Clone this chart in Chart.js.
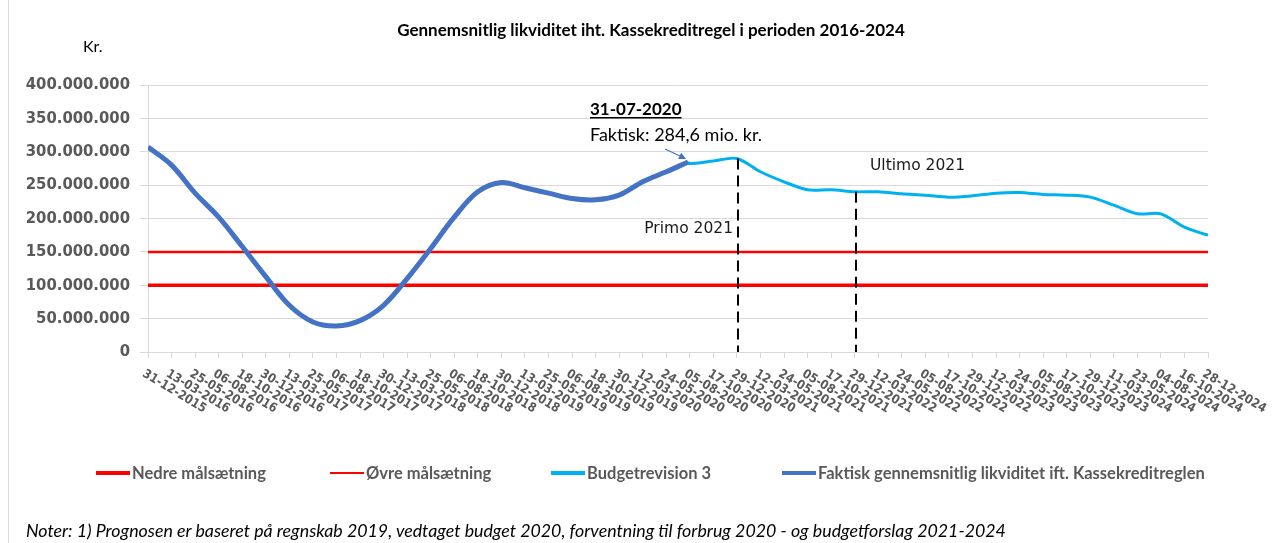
<!DOCTYPE html>
<html>
<head>
<meta charset="utf-8">
<script src="https://cdn.jsdelivr.net/npm/chart.js@4.4.1/dist/chart.umd.min.js"></script>
<style>
  body { margin: 0; background: #fff; }
  #wrap { position: relative; width: 1284px; height: 543px; overflow: hidden; }
  #chart { position: absolute; left: 0; top: 0; }
  .frame { position: absolute; left: 8px; top: 0; width: 1px; height: 543px; background: #d9d9d9; }
  .title { position: absolute; top: 19px; left: 18px; width: 1266px; text-align: center; font: bold 17px Lato, sans-serif; color: #000; white-space: nowrap; }
  .unit { position: absolute; top: 36px; left: 83px; font: 16px Lato, sans-serif; color: #000; }
  .legend-item { position: absolute; top: 463px; font: bold 16.5px Lato, sans-serif; color: #595959; white-space: nowrap; display: flex; align-items: center; }
  .legend-item i { display: inline-block; width: 34px; margin-right: 2px; }
  .note { position: absolute; top: 519px; left: 26px; font: italic 17.8px Lato, sans-serif; color: #000; white-space: nowrap; }
</style>
</head>
<body>
<div id="wrap">
  <canvas id="chart" width="1284" height="543"></canvas>
  <div class="frame"></div>
  <div class="title">Gennemsnitlig likviditet iht. Kassekreditregel i perioden 2016-2024</div>
  <div class="unit">Kr.</div>
  <div id="legend"></div>
  <div class="note">Noter: 1) Prognosen er baseret på regnskab 2019, vedtaget budget 2020, forventning til forbrug 2020 - og budgetforslag 2021-2024</div>
</div>
<script>
// Tick labels on the date axis (every 73 days)
const tickLabels = [
  '31-12-2015', '13-03-2016', '25-05-2016', '06-08-2016', '18-10-2016', '30-12-2016',
  '13-03-2017', '25-05-2017', '06-08-2017', '18-10-2017', '30-12-2017', '13-03-2018',
  '25-05-2018', '06-08-2018', '18-10-2018', '30-12-2018', '13-03-2019', '25-05-2019',
  '06-08-2019', '18-10-2019', '30-12-2019', '12-03-2020', '24-05-2020', '05-08-2020',
  '17-10-2020', '29-12-2020', '12-03-2021', '24-05-2021', '05-08-2021', '17-10-2021',
  '29-12-2021', '12-03-2022', '24-05-2022', '05-08-2022', '17-10-2022', '29-12-2022',
  '12-03-2023', '24-05-2023', '05-08-2023', '17-10-2023', '29-12-2023', '11-03-2024',
  '23-05-2024', '04-08-2024', '16-10-2024', '28-12-2024'
];

// Values in mio. kr.
const actualDates = tickLabels.slice(0, 23).concat(['31-07-2020']);
const actualValues = [307, 280, 238, 202, 158, 113, 70, 45, 39, 47, 70, 110,
                      155, 202, 240, 254, 246, 238, 230, 228, 235, 255, 270, 284.6];

const budgetDates = ['31-07-2020'].concat(tickLabels.slice(23));
const budgetValues = [284.6, 282, 286, 290, 270, 255, 243, 243, 240, 240, 237, 235,
                      232, 234, 238, 239, 236, 235, 232, 220, 207, 207, 187, 175];

const lowerTarget = 100;
const upperTarget = 150;

const seriesNames = ['Nedre målsætning', 'Øvre målsætning', 'Budgetrevision 3',
                     'Faktisk gennemsnitlig likviditet ift. Kassekreditreglen'];
const seriesColors = ['#ff0000', '#ff0000', '#00b0f0', '#4472c4'];

const markers = [
  { date: '29-12-2020', text: 'Primo 2021' },
  { date: '29-12-2021', text: 'Ultimo 2021' },
];

// ── helpers ────────────────────────────────────────────────────────────────

function toDay(s) {
  const [d, m, y] = s.split('-').map(Number);
  const [d0, m0, y0] = tickLabels[0].split('-').map(Number);
  return Math.round((Date.UTC(y, m - 1, d) - Date.UTC(y0, m0 - 1, d0)) / 86400000);
}

function fmtKr(v) {
  return String(Math.round(v * 1e6)).replace(/\B(?=(\d{3})+(?!\d))/g, '.');
}

const tickDays = tickLabels.map(toDay);
const lastDay = tickDays[tickDays.length - 1];
const pts = (dates, vals) => dates.map((d, i) => ({ x: toDay(d), y: vals[i] }));

function valueAt(day) {
  const p = pts(budgetDates, budgetValues).find(q => q.x === day);
  return p ? p.y : 0;
}

// ── custom drawing: rotated date labels, marker lines, callout ─────────────

const extras = {
  id: 'extras',
  afterDatasetsDraw(chart) {
    const { ctx, scales: { x, y } } = chart;
    ctx.save();
    ctx.strokeStyle = '#000';
    ctx.lineWidth = 2;
    ctx.setLineDash([11, 6]);
    ctx.font = '15.5px "DejaVu Sans"';
    ctx.fillStyle = '#1a1a1a';
    ctx.textBaseline = 'middle';
    markers.forEach((m, i) => {
      const day = toDay(m.date);
      const px = Math.round(x.getPixelForValue(day)) + 1;
      ctx.beginPath();
      ctx.moveTo(px, y.getPixelForValue(valueAt(day)));
      ctx.lineTo(px, y.getPixelForValue(0));
      ctx.stroke();
      if (i === 0) {
        ctx.textAlign = 'right';
        ctx.fillText(m.text, px - 5, 229);
      } else {
        ctx.textAlign = 'left';
        ctx.fillText(m.text, px + 14, 166);
      }
    });
    ctx.setLineDash([]);

    // callout for 31-07-2020
    const sx = x.getPixelForValue(toDay('31-07-2020'));
    const sy = y.getPixelForValue(actualValues[actualValues.length - 1]);
    ctx.textAlign = 'left';
    ctx.textBaseline = 'alphabetic';
    ctx.fillStyle = '#000';
    ctx.font = 'bold 17px Lato';
    ctx.fillText('31-07-2020', 590, 115);
    const w = ctx.measureText('31-07-2020').width;
    ctx.fillRect(590, 117, w, 1.5);
    ctx.font = '18px Lato';
    ctx.fillText('Faktisk: 284,6 mio. kr.', 590, 141);

    const ex = sx - 4, ey = sy - 4;
    const bx = ex - 19, by = ey - 9;
    ctx.strokeStyle = '#4472c4';
    ctx.fillStyle = '#4472c4';
    ctx.lineWidth = 1.2;
    ctx.beginPath(); ctx.moveTo(bx, by); ctx.lineTo(ex, ey); ctx.stroke();
    const a = Math.atan2(ey - by, ex - bx);
    ctx.beginPath();
    ctx.moveTo(ex + 2, ey + 1);
    ctx.lineTo(ex + 2 - 8 * Math.cos(a - 0.45), ey + 1 - 8 * Math.sin(a - 0.45));
    ctx.lineTo(ex + 2 - 8 * Math.cos(a + 0.45), ey + 1 - 8 * Math.sin(a + 0.45));
    ctx.closePath(); ctx.fill();
    ctx.restore();
  },
  afterDraw(chart) {
    const { ctx, scales: { x } } = chart;
    ctx.save();
    ctx.font = 'bold 12.5px "DejaVu Sans Condensed"';
    ctx.fillStyle = '#595959';
    ctx.textAlign = 'left';
    ctx.textBaseline = 'middle';
    tickDays.forEach((d, i) => {
      ctx.save();
      ctx.translate(x.getPixelForValue(d) - 4.5, 373);
      ctx.rotate(31 * Math.PI / 180);
      ctx.fillText(tickLabels[i], 0, 0);
      ctx.restore();
    });
    ctx.restore();
  }
};

// ── chart ──────────────────────────────────────────────────────────────────

const ctx = document.getElementById('chart').getContext('2d');
new Chart(ctx, {
  type: 'line',
  data: {
    datasets: [
      {
        label: seriesNames[3],
        data: pts(actualDates, actualValues),
        borderColor: seriesColors[3],
        borderWidth: 5,
        tension: 0.35,
        pointRadius: 0,
        order: 0,
      },
      {
        label: seriesNames[2],
        data: pts(budgetDates, budgetValues),
        borderColor: seriesColors[2],
        borderWidth: 3,
        tension: 0.3,
        pointRadius: 0,
        order: 1,
      },
      {
        label: seriesNames[1],
        data: [{ x: 0, y: upperTarget }, { x: lastDay, y: upperTarget }],
        borderColor: seriesColors[1],
        borderWidth: 2.5,
        pointRadius: 0,
        order: 2,
      },
      {
        label: seriesNames[0],
        data: [{ x: 0, y: lowerTarget }, { x: lastDay, y: lowerTarget }],
        borderColor: seriesColors[0],
        borderWidth: 3.5,
        pointRadius: 0,
        order: 3,
      },
    ],
  },
  options: {
    responsive: false,
    animation: false,
    layout: { padding: { top: 85, right: 76, left: 0, bottom: 0 } },
    plugins: { legend: { display: false }, tooltip: { enabled: false } },
    scales: {
      x: {
        type: 'linear',
        min: 0,
        max: lastDay,
        afterBuildTicks: s => { s.ticks = tickDays.map(v => ({ value: v })); },
        afterFit: s => { s.height = 191; },
        ticks: { display: false },
        grid: { drawOnChartArea: false, drawTicks: true, tickLength: 6, color: '#d9d9d9' },
        border: { color: '#d9d9d9' },
      },
      y: {
        min: 0,
        max: 400,
        afterFit: s => { s.width = 148; },
        ticks: {
          stepSize: 50,
          callback: v => fmtKr(v),
          color: '#595959',
          padding: 10,
          font: { family: '"DejaVu Sans Condensed"', weight: 'bold', size: 16.5 },
        },
        grid: { color: '#d9d9d9', tickLength: 8 },
        border: { color: '#d9d9d9' },
      },
    },
  },
  plugins: [extras],
});

// ── legend (HTML) ──────────────────────────────────────────────────────────

const legendX = [96, 330, 551, 782];
const legendW = [4, 2.5, 3.5, 4.5];
const legend = document.getElementById('legend');
seriesNames.forEach((name, i) => {
  const el = document.createElement('div');
  el.className = 'legend-item';
  el.style.left = legendX[i] + 'px';
  el.innerHTML = '<i style="height:' + legendW[i] + 'px;background:' + seriesColors[i] + '"></i>' + name;
  legend.appendChild(el);
});
</script>
</body>
</html>
